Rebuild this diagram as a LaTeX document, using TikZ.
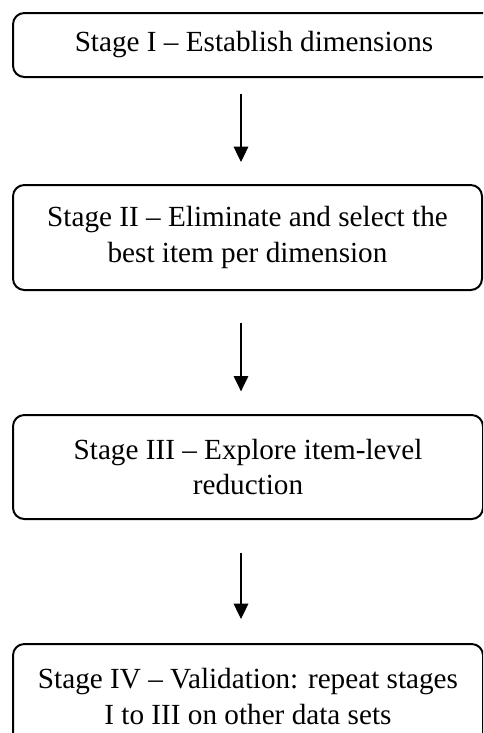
\documentclass[tikz,border=0pt]{standalone}
\usepackage{fontspec}
\setmainfont{Liberation Serif}
\usetikzlibrary{arrows.meta}
\begin{document}
\begin{tikzpicture}[x=0.75pt,y=-0.75pt,
  stagebox/.style={draw, line width=1.5pt, rounded corners=8.5pt,
    align=center, inner sep=0pt,
    font=\fontsize{21.9pt}{26.3pt}\selectfont},
  flow/.style={draw, line width=0.8pt,
    -{Triangle[width=11pt,length=11.5pt]}}]
  \useasboundingbox (0,0) rectangle (483,733);
  \clip (0,0) rectangle (483,733);
  % stage boxes, sized in pixel units (1px = 0.75pt)
  \node[stagebox, minimum width=361.5pt, minimum height=48pt] (s1) at (254,45)
    {Stage I -- Establish dimensions};
  \node[stagebox, minimum width=351.75pt, minimum height=78.75pt] (s2) at (247.5,237.5)
    {Stage II -- Eliminate and select the\\best item per dimension};
  \node[stagebox, minimum width=352.5pt, minimum height=78pt] (s3) at (248,467)
    {Stage III -- Explore item-level\\reduction};
  \node[stagebox, minimum width=352.5pt, minimum height=78.75pt] (s4) at (248,696.5)
    {Stage IV -- Validation: repeat stages\\I to III on other data sets};
  % arrows run down a common vertical line
  \coordinate (ax) at (241,0);
  \draw[flow, shorten <=12pt, shorten >=16.5pt] (s1.south -| ax) -- (s2.north -| ax);
  \draw[flow, shorten <=24pt, shorten >=17pt] (s2.south -| ax) -- (s3.north -| ax);
  \draw[flow, shorten <=24.5pt, shorten >=18pt] (s3.south -| ax) -- (s4.north -| ax);
\end{tikzpicture}
\end{document}
